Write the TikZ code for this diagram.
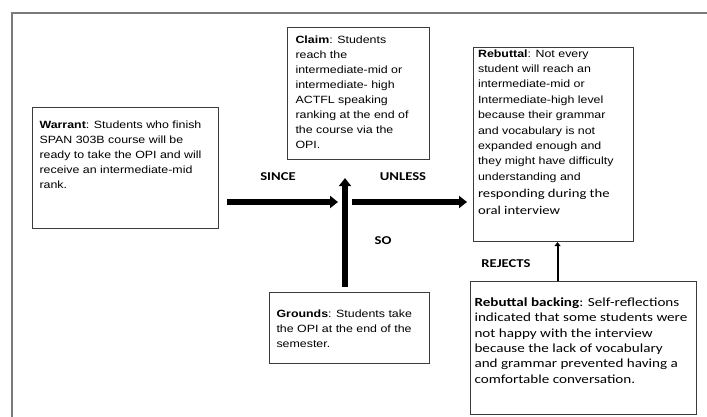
\documentclass[tikz,border=0pt]{standalone}
\usepackage{fontspec}
\newfontfamily\arialfont[FakeStretch=1.18]{Liberation Sans}
\newfontfamily\calfont[FakeStretch=1.22]{Carlito}
\usetikzlibrary{arrows.meta}
\definecolor{framegray}{HTML}{7A7A7A}
\definecolor{boxgray}{HTML}{3C3C3C}
\newcommand{\ariallines}{\arialfont\fontsize{10.5}{15}\selectfont\raggedright}
\newcommand{\callines}{\calfont\fontsize{12.4}{15.4}\selectfont\raggedright}
\tikzset{
  argbox/.style={draw=boxgray, line width=1.1pt, inner ysep=0pt, anchor=north west},
  bigarrow/.style={line width=6.5pt, -{Triangle[width=12pt,length=8pt]}},
  thinarrow/.style={line width=2pt, -{Triangle[width=6pt,length=4pt]}},
  linklabel/.style={font=\calfont\bfseries\fontsize{12}{14}\selectfont}
}

\begin{document}
\begin{tikzpicture}[x=1pt, y=-1pt]
\useasboundingbox (0,0) rectangle (707,417);
% outer frame, runs off the page at right and bottom
\draw[framegray, line width=1.8pt] (12,13) rectangle (730,440);

% the five argument boxes
\node[argbox, inner xsep=7pt] (warrant) at (32,107)
  {\parbox[c][121pt][t]{172pt}{\ariallines\vspace*{13pt}%
  \textbf{Warrant}: Students who finish\\
  SPAN 303B course will be\\
  ready to take the OPI and will\\
  receive an intermediate-mid\\
  rank.}};
\node[argbox, inner xsep=8pt] (claim) at (287,27)
  {\parbox[c][132pt][t]{126pt}{\ariallines\vspace*{8pt}%
  \textbf{Claim}: Students\\
  reach the\\
  intermediate-mid or\\
  intermediate- high\\
  ACTFL speaking\\
  ranking at the end of\\
  the course via the\\
  OPI.}};
\node[argbox, inner xsep=4.5pt] (rebuttal) at (473,47)
  {\parbox[c][194pt][t]{151pt}{\ariallines\fontsize{10.5}{15.4}\selectfont\vspace*{2pt}%
  \textbf{Rebuttal}: Not every\\
  student will reach an\\
  intermediate-mid or\\
  Intermediate-high level\\
  because their grammar\\
  and vocabulary is not\\
  expanded enough and\\
  they might have difficulty\\
  understanding and\par
  \callines\fontsize{12}{17}\selectfont
  responding during the\\
  oral interview}};
\node[argbox, inner xsep=7pt] (grounds) at (269,292)
  {\parbox[c][71pt][t]{146pt}{\ariallines\vspace*{17pt}%
  \textbf{Grounds}: Students take\\
  the OPI at the end of the\\
  semester.}};
\node[argbox, inner xsep=4pt] (backing) at (470,281)
  {\parbox[c][133pt][t]{218pt}{\callines\vspace*{16pt}%
  \textbf{Rebuttal backing}: Self-reflections\\
  indicated that some students were\\
  not happy with the interview\\
  because the lack of vocabulary\\
  and grammar prevented having a\\
  comfortable conversation.}};

% connectors
\coordinate (hub) at (345,202);
\draw[bigarrow, shorten <=8pt, shorten >=7pt] (warrant.east |- hub) -- (hub);
\draw[bigarrow, shorten <=5pt, shorten >=18pt] (hub |- grounds.north) -- (hub |- claim.south);
\draw[bigarrow, shorten <=7pt, shorten >=6pt] (hub) -- (hub -| rebuttal.west);
\draw[thinarrow] ([xshift=-26pt]backing.north) -- ([xshift=-26pt]backing.north |- rebuttal.south);

% connector labels
\node[linklabel] (since) at (278,177) {SINCE};
\node[linklabel] (unless) at (403,177) {UNLESS};
\node[linklabel] (so) at (383,241) {SO};
\node[linklabel] (rejects) at (506,264) {REJECTS};
\end{tikzpicture}
\end{document}
